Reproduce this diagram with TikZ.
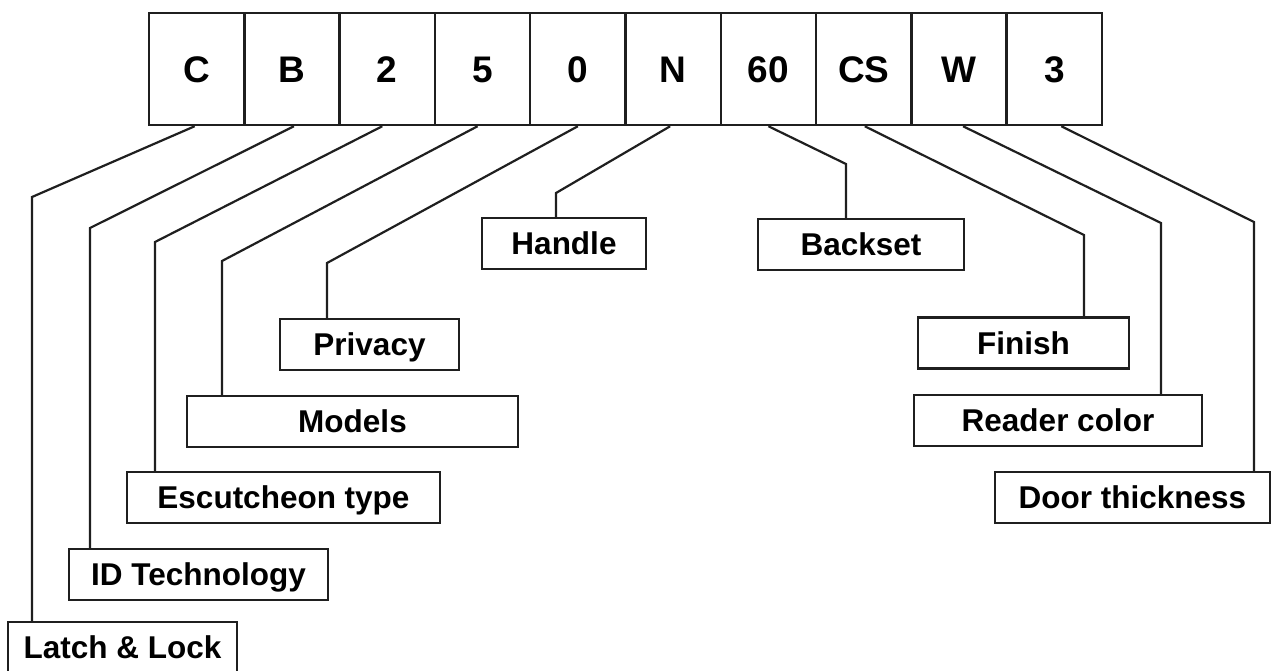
\documentclass[tikz,border=0pt]{standalone}
\usepackage{fontspec}
\setmainfont{Liberation Sans}
\begin{document}
\begin{tikzpicture}[x=1pt,y=-1pt,
  ink/.style={draw=black!88, line width=2.5pt},
  topbox/.style={ink, minimum width=95.3pt, minimum height=112pt, inner sep=0pt,
    font=\fontsize{37}{40}\selectfont\bfseries, text height=26.5pt, text depth=0pt},
  lbl/.style={ink, minimum height=51pt, inner sep=0pt,
    font=\fontsize{31.5}{34}\selectfont\bfseries, text height=22.5pt, text depth=0pt},
  wire/.style={draw=black!88, line width=2.2pt, line join=miter}]
\useasboundingbox (0,0) rectangle (1272,670);
% top code boxes
\node[topbox] (t1) at (196.65,69) {C};
\node[topbox] (t2) at (291.95,69) {B};
\node[topbox] (t3) at (387.25,69) {2};
\node[topbox] (t4) at (482.55,69) {5};
\node[topbox] (t5) at (577.85,69) {0};
\node[topbox] (t6) at (673.15,69) {N};
\node[topbox] (t7) at (768.45,69) {60};
\node[topbox] (t8) at (863.75,69) {CS};
\node[topbox] (t9) at (959.05,69) {W};
\node[topbox] (t10) at (1054.35,69) {3};
% label boxes
\node[lbl, minimum width=229pt] (latch) at (122.5,647.5) {Latch \& Lock};
\node[lbl, minimum width=259pt] (idtech) at (198.5,574.5) {ID Technology};
\node[lbl, minimum width=313pt] (escut) at (283.5,497.5) {Escutcheon type};
\node[lbl, minimum width=331pt] (models) at (352.5,421.5) {Models};
\node[lbl, minimum width=179pt] (privacy) at (369.5,344.5) {Privacy};
\node[lbl, minimum width=164pt] (handle) at (564,243.5) {Handle};
\node[lbl, minimum width=206pt] (backset) at (861,244.5) {Backset};
\node[lbl, minimum width=211pt] (finish) at (1023.5,343) {Finish};
\node[lbl, minimum width=288pt] (reader) at (1058,420.5) {Reader color};
\node[lbl, minimum width=275pt] (door) at (1132.5,497.5) {Door thickness};
% bend points
\coordinate (bC) at (32,197);
\coordinate (bB) at (90,228);
\coordinate (b2) at (155,242);
\coordinate (b5) at (222,261);
\coordinate (b0) at (327,263);
\coordinate (bN) at (556,193);
\coordinate (b60) at (846,164);
\coordinate (bCS) at (1084,235);
\coordinate (bW) at (1161,223);
\coordinate (b3) at (1254,222);
% connectors
\draw[wire] ([xshift=-2pt]t1.south) -- (bC) -- (bC |- latch.north);
\draw[wire] ([xshift=2pt]t2.south) -- (bB) -- (bB |- idtech.north);
\draw[wire] ([xshift=-5pt]t3.south) -- (b2) -- (b2 |- escut.north);
\draw[wire] ([xshift=-5pt]t4.south) -- (b5) -- (b5 |- models.north);
\draw[wire] (t5.south) -- (b0) -- (b0 |- privacy.north);
\draw[wire] ([xshift=-3pt]t6.south) -- (bN) -- (bN |- handle.north);
\draw[wire] (t7.south) -- (b60) -- (b60 |- backset.north);
\draw[wire] ([xshift=1pt]t8.south) -- (bCS) -- (bCS |- finish.north);
\draw[wire] ([xshift=4pt]t9.south) -- (bW) -- (bW |- reader.north);
\draw[wire] ([xshift=7pt]t10.south) -- (b3) -- (b3 |- door.north);
\end{tikzpicture}
\end{document}
